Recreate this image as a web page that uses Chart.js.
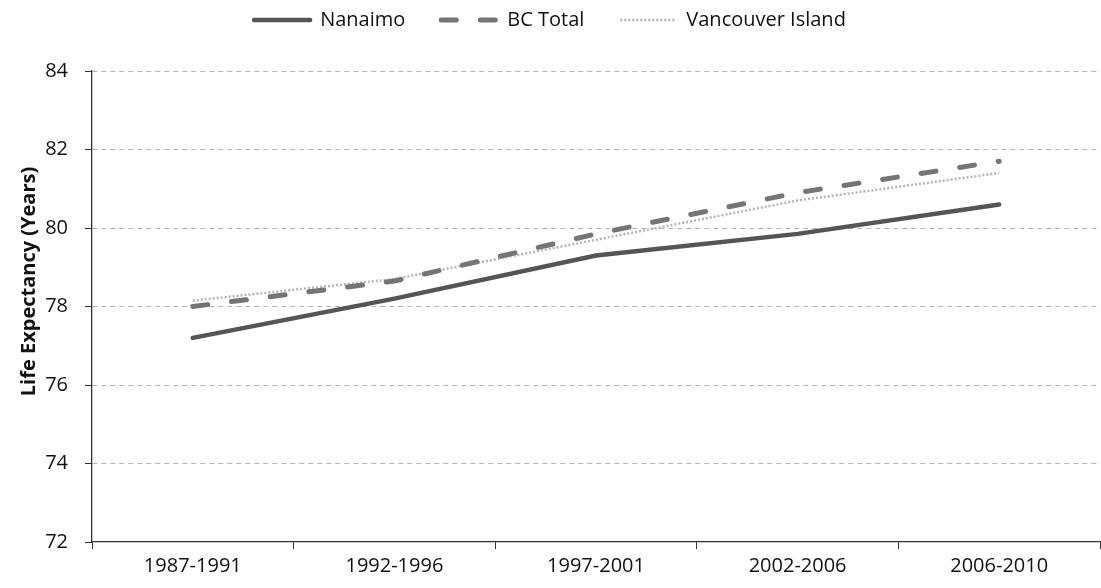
<!DOCTYPE html>
<html>
<head>
<meta charset="utf-8">
<script src="https://cdn.jsdelivr.net/npm/chart.js@4.4.1/dist/chart.umd.min.js"></script>
<style>
  html, body { margin: 0; padding: 0; background: #ffffff; }
  #wrap { width: 1101px; height: 588px; position: relative; }
</style>
</head>
<body>
<div id="wrap"><canvas id="c" width="1101" height="588"></canvas></div>
<script>
const categories = ['1987-1991', '1992-1996', '1997-2001', '2002-2006', '2006-2010'];
const nanaimo = [77.2, 78.2, 79.3, 79.85, 80.6];
const bcTotal = [78.0, 78.65, 79.85, 80.9, 81.7];
const vancouverIsland = [78.15, 78.7, 79.7, 80.7, 81.4];
const yTicks = [72, 74, 76, 78, 80, 82, 84];
const yTitle = 'Life Expectancy (Years)';

const FONT = "'Open Sans', 'DejaVu Sans', sans-serif";

const legendSpacer = {
  id: 'legendSpacer',
  beforeInit(chart) {
    const orig = chart.legend.fit;
    chart.legend.fit = function () {
      orig.call(this);
      this.height += 31;
    };
  }
};

new Chart(document.getElementById('c'), {
  type: 'line',
  data: {
    labels: categories,
    datasets: [
      {
        label: 'Nanaimo',
        data: nanaimo,
        borderColor: '#555555',
        borderWidth: 4.5,
        pointRadius: 0,
        tension: 0,
        borderCapStyle: 'round'
      },
      {
        label: 'BC Total',
        data: bcTotal,
        borderColor: '#757575',
        borderWidth: 5,
        borderDash: [15, 24],
        borderCapStyle: 'round',
        pointRadius: 0,
        tension: 0
      },
      {
        label: 'Vancouver Island',
        data: vancouverIsland,
        borderColor: '#b5b5b5',
        borderWidth: 2.5,
        borderDash: [2, 2],
        borderCapStyle: 'butt',
        pointRadius: 0,
        tension: 0
      }
    ]
  },
  options: {
    responsive: false,
    animation: false,
    devicePixelRatio: 1,
    layout: { padding: { top: -26, right: 1, left: 0, bottom: 0 } },
    plugins: {
      tooltip: { enabled: false },
      legend: {
        position: 'top',
        align: 'center',
        labels: {
          usePointStyle: true,
          pointStyle: 'line',
          pointStyleWidth: 56,
          padding: 36,
          color: '#111',
          font: { family: FONT, size: 20 },
          generateLabels(chart) {
            const items = Chart.defaults.plugins.legend.labels.generateLabels(chart);
            items.forEach((it) => {
              const ds = chart.data.datasets[it.datasetIndex];
              it.lineDash = ds.borderDash || [];
              it.lineWidth = ds.borderWidth;
              it.strokeStyle = ds.borderColor;
              it.lineCap = ds.borderCapStyle || 'butt';
              it.pointStyle = 'line';
            });
            return items;
          }
        }
      }
    },
    scales: {
      x: {
        type: 'category',
        offset: true,
        afterFit(scale) { scale.height = 46; },
        grid: {
          offset: true,
          drawOnChartArea: false,
          drawTicks: true,
          tickLength: 7,
          tickColor: '#333',
          tickWidth: 1
        },
        border: { display: true, color: '#333', width: 1.3 },
        ticks: {
          color: '#111',
          padding: 5,
          maxRotation: 0,
          font: { family: FONT, size: 20 }
        }
      },
      y: {
        min: 72,
        max: 84,
        afterFit(scale) {
          scale.width = 92;
          if (!scale._titleShifted) {
            const origDrawTitle = scale.drawTitle;
            scale.drawTitle = function () {
              const ctx = this.ctx;
              ctx.save();
              ctx.translate(0, -25);
              origDrawTitle.call(this);
              ctx.restore();
            };
            scale._titleShifted = true;
          }
        },
        afterBuildTicks(scale) { scale.ticks = yTicks.map(v => ({ value: v })); },
        grid: {
          color: (ctx) => (ctx.tick && ctx.tick.value === 72 ? 'rgba(0,0,0,0)' : '#b3b3b3'),
          lineWidth: 1,
          tickColor: '#333',
          tickLength: 7,
          tickBorderDash: []
        },
        border: { display: true, color: '#333', width: 1.3, dash: [5, 4] },
        ticks: {
          color: '#111',
          padding: 17,
          font: { family: FONT, size: 20 }
        },
        title: {
          display: true,
          text: yTitle,
          color: '#111',
          padding: { top: 17, bottom: 0 },
          font: { family: FONT, size: 20, weight: 'bold' }
        }
      }
    }
  },
  plugins: [legendSpacer]
});
</script>
</body>
</html>
